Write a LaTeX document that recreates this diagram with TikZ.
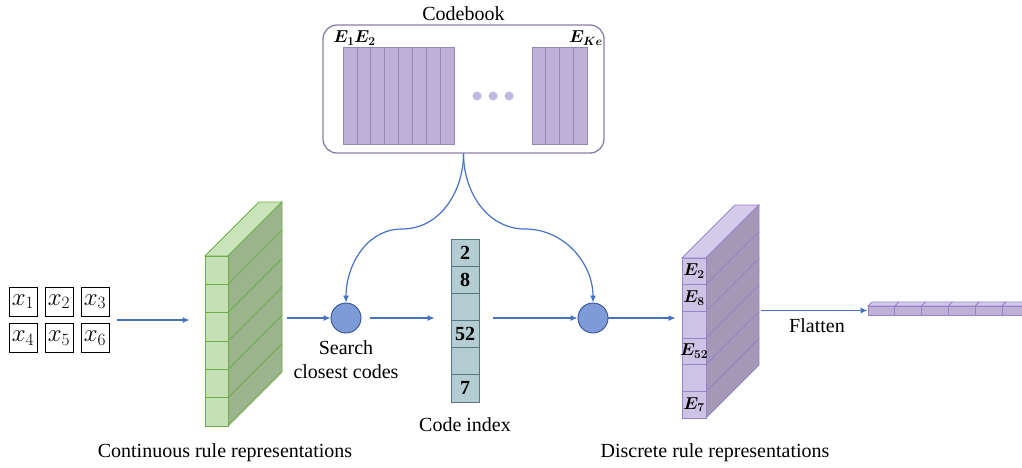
\documentclass[tikz,border=0pt]{standalone}
\usepackage{fontspec}
\setmainfont{Liberation Serif}
\usepackage{bm}
\usetikzlibrary{arrows.meta,positioning,calc}
\definecolor{flowblue}{RGB}{68,114,196}
\definecolor{hubfill}{RGB}{125,155,215}
\definecolor{hubedge}{RGB}{50,82,150}
\definecolor{idxfill}{RGB}{180,205,210}
\definecolor{idxedge}{RGB}{85,120,125}
\definecolor{gfront}{RGB}{197,224,180}
\definecolor{gtop}{RGB}{202,228,188}
\definecolor{gside}{RGB}{155,180,142}
\definecolor{gedge}{RGB}{112,173,71}
\definecolor{pfront}{RGB}{205,195,228}
\definecolor{ptop}{RGB}{212,203,234}
\definecolor{pside}{RGB}{163,153,183}
\definecolor{pedge}{RGB}{150,132,200}
\definecolor{cbbar}{RGB}{191,176,216}
\definecolor{cbbaredge}{RGB}{150,135,185}
\definecolor{cbedge}{RGB}{140,125,170}
\definecolor{dotc}{RGB}{192,182,226}

\begin{document}
\begin{tikzpicture}[x=1pt, y=-1pt, >=Latex, font=\fontsize{20}{24}\selectfont,
  flow/.style={->, flowblue, line width=1.2pt, >={Latex[length=7pt,width=6pt]}},
  xbox/.style={draw=black, line width=0.9pt, minimum width=28pt, minimum height=29pt, inner sep=0pt, font=\fontsize{23}{24}\selectfont},
  hub/.style={circle, draw=hubedge, fill=hubfill, line width=0.9pt, minimum size=30pt, inner sep=0pt},
  idx/.style={draw=idxedge, fill=idxfill, line width=0.9pt, minimum width=28pt, minimum height=27.17pt, inner sep=0pt, font=\fontsize{20}{22}\selectfont\bfseries},
  gcell/.style={draw=gedge, fill=gfront, line width=0.9pt, minimum width=23pt, minimum height=28.33pt, inner sep=0pt},
  pcell/.style={draw=pedge, fill=pfront, line width=0.9pt, minimum width=24pt, minimum height=26.67pt, inner sep=0pt, font=\fontsize{18}{20}\selectfont},
  fcell/.style={draw=pedge, fill=cbbar, line width=0.8pt, minimum width=26.8pt, minimum height=9pt, inner sep=0pt},
  cbar/.style={draw=cbbaredge, fill=cbbar, line width=0.8pt, minimum width=13.9pt, minimum height=97pt, inner sep=0pt},
  dot/.style={circle, fill=dotc, minimum size=9pt, inner sep=0pt},
  elbl/.style={font=\fontsize{18}{20}\selectfont, inner sep=0pt}]
\useasboundingbox (0,0) rectangle (1022,467);

% codebook
\node[draw=cbedge, rounded corners=14pt, line width=1.3pt,
      minimum width=281pt, minimum height=128pt] (cb) at (463.5,89) {};
\node[above=0pt of cb] (cbtitle) {Codebook};
\foreach \k in {0,...,7}
  \node[cbar] (bl\k) at (350+\k*13.9,95.5) {};
\foreach \k in {0,...,3}
  \node[cbar, minimum width=13.75pt] (br\k) at (538.9+\k*13.75,95.5) {};
\foreach \k in {0,1,2}
  \node[dot] (d\k) at (477+\k*16,96) {};
\node[elbl] (e1) at (344,38) {$\bm{E_{1}}$};
\node[elbl] (e2) at (365,38) {$\bm{E_{2}}$};
\node[elbl] (eke) at (586,38) {$\bm{E_{Ke}}$};

% inputs
\node[xbox] (x1) at (23,301.5) {$x_1$};
\node[xbox] (x2) at (59,301.5) {$x_2$};
\node[xbox] (x3) at (95,301.5) {$x_3$};
\node[xbox] (x4) at (23,338) {$x_4$};
\node[xbox] (x5) at (59,338) {$x_5$};
\node[xbox] (x6) at (95,338) {$x_6$};

% continuous slab
\coordinate (gback) at (282,202);
\filldraw[fill=gtop, draw=gedge, line width=0.9pt] (205,256) -- (259,202) -- (gback) -- (228,256) -- cycle;
\filldraw[fill=gside, draw=gedge, line width=0.9pt] (228,256) -- (gback) -- (282,372) -- (228,426) -- cycle;
\foreach \k in {1,...,5}
  \draw[gedge, line width=0.9pt] (228,256+\k*28.33) -- (282,202+\k*28.33);
\foreach \k in {1,...,6}
  \node[gcell] (g\k) at (216.5,241.83+\k*28.33) {};
\node (contlbl) at (225,453) {Continuous rule representations};

% search and code index
\node[hub] (sc) at (346,318) {};
\node[below=4pt of sc, align=center] (sclbl) {Search\\closest codes};
\foreach \v [count=\k] in {2,8,{},52,{},7}
  \node[idx] (ci\k) at (465,225.4+\k*27.17) {\v};
\node (cilbl) at (465,425) {Code index};
\node[hub] (dc) at (593,318) {};

% discrete slab
\coordinate (pback) at (759,205);
\filldraw[fill=ptop, draw=pedge, line width=0.9pt] (682,258) -- (735,205) -- (pback) -- (706,258) -- cycle;
\filldraw[fill=pside, draw=pedge, line width=0.9pt] (706,258) -- (pback) -- (759,365) -- (706,418) -- cycle;
\foreach \k in {1,...,5}
  \draw[pedge, line width=0.9pt] (706,258+\k*26.67) -- (759,205+\k*26.67);
\foreach \v [count=\k] in {$\bm{E_{2}}$,$\bm{E_{8}}$,{},$\bm{E_{52}}$,{},$\bm{E_{7}}$}
  \node[pcell] (p\k) at (694,244.67+\k*26.67) {\makebox[0pt]{\v}};
\node (disclbl) at (715,453) {Discrete rule representations};

% flattened vector, runs off the right edge
\begin{scope}
\clip (860,290) rectangle (1022,325);
\foreach \k in {0,...,6} {
  \filldraw[fill=ptop, draw=pedge, line width=0.8pt] (868+\k*26.8,306) -- (872+\k*26.8,302)
    -- (898.8+\k*26.8,302) -- (894.8+\k*26.8,306) -- cycle;
  \node[fcell] (fl\k) at (881.4+\k*26.8,310.5) {};
}
\end{scope}
\node (flattxt) at (817,326) {Flatten};

% connectors
\coordinate (splitL) at (402,229);
\coordinate (splitR) at (525,229);
\draw[flow] (cb.south) to[out=-90, in=0] (splitL) to[out=180, in=90] (sc.north);
\draw[flow] (cb.south) to[out=-90, in=180] (splitR) to[out=0, in=90] (dc.north);
\draw[flow] ($(x3.east |- sc)+(8,2)$) -- ($(g3.west |- sc)+(-15,2)$);
\draw[flow] ($(gback |- sc)+(5,0)$) -- (sc.west);
\draw[flow] ($(sc.east)+(9,0)$) -- ($(ci3.west |- sc)+(-16,0)$);
\draw[flow] ($(ci3.east |- dc)+(14,0)$) -- (dc.west);
\draw[flow] (dc.east) -- ($(p3.west |- dc)+(-6,0)$);
\draw[flow] ($(pback |- fl0)+(2,0)$) -- (fl0.west);
\end{tikzpicture}
\end{document}
